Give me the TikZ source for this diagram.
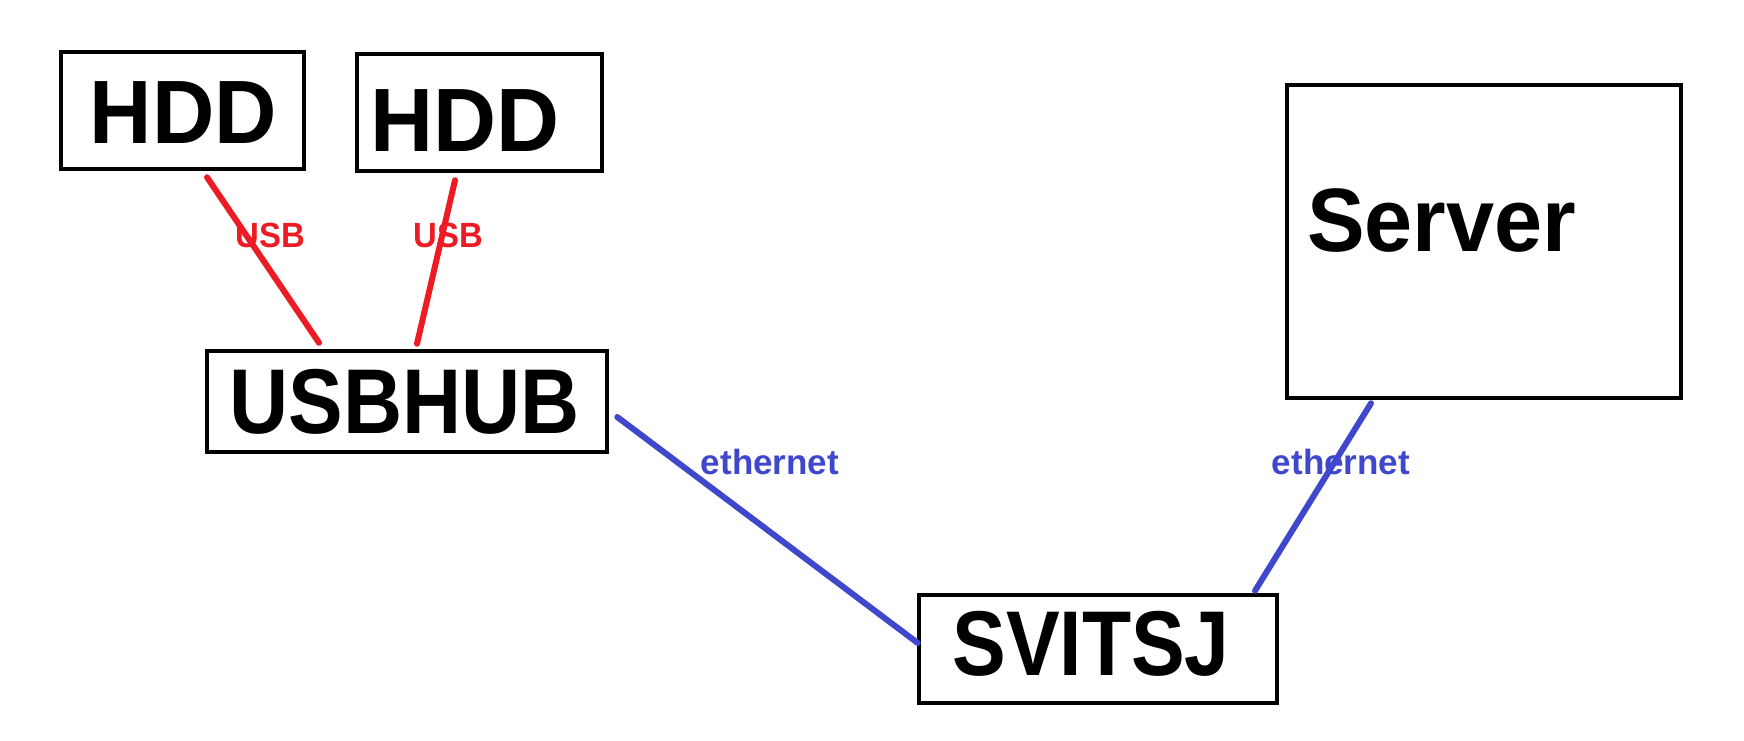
\documentclass[tikz,border=0pt]{standalone}
\usepackage{fontspec}
\setmainfont{Liberation Sans}
\usetikzlibrary{calc}
\definecolor{usbred}{RGB}{237,28,36}
\definecolor{ethblue}{RGB}{63,72,204}
\tikzset{
  devbox/.style={draw=black, line width=4.5pt, inner sep=0pt, fill=none},
  bigtext/.style={inner sep=0pt, font=\fontsize{90}{96}\selectfont\bfseries},
  usbline/.style={draw=usbred, line width=6pt, line cap=round},
  ethline/.style={draw=ethblue, line width=6pt, line cap=round},
  usblabel/.style={inner sep=0pt, text=usbred, font=\fontsize{35}{40}\selectfont\bfseries},
  ethlabel/.style={inner sep=0pt, text=ethblue, font=\fontsize{35}{40}\selectfont\bfseries},
}
\begin{document}
\begin{tikzpicture}[x=1pt,y=-1pt]
\useasboundingbox[fill=white] (0,0) rectangle (1744,740);

% boxes
\node[devbox, minimum width=243pt, minimum height=117pt] (hdda) at (182.5,110.5) {};
\node[devbox, minimum width=245pt, minimum height=117pt] (hddb) at (479.5,112.5) {};
\node[devbox, minimum width=400pt, minimum height=101pt] (hub) at (407,401.5) {};
\node[devbox, minimum width=394pt, minimum height=313pt] (server) at (1484,241.5) {};
\node[devbox, minimum width=358pt, minimum height=108pt] (switch) at (1098,649) {};

% box texts
\node[bigtext] (hddat) at (183.5,112.5) {\scalebox{0.96}[1]{HDD}};
\node[bigtext] (hddbt) at (465,121) {\scalebox{0.97}[1]{HDD}};
\node[bigtext, font=\fontsize{92}{96}\selectfont\bfseries] (hubt) at (405,401.5) {\scalebox{0.89}[1]{USBHUB}};
\node[bigtext] (servert) at (1441.5,220.5) {\scalebox{0.96}[1]{Server}};
\node[bigtext, font=\fontsize{92}{96}\selectfont\bfseries] (switcht) at (1091,643.5) {\scalebox{0.875}[1]{SVITSJ}};

% connector labels (drawn under the lines)
\node[usblabel] (usba) at (270.5,235.5) {\scalebox{0.94}[1]{USB}};
\node[usblabel] (usbb) at (448.5,235.5) {\scalebox{0.94}[1]{USB}};
\node[ethlabel] (etha) at (770,462) {ethernet};
\node[ethlabel] (ethb) at (1341,462) {ethernet};

% connectors
\draw[usbline] ($(hdda.south)+(24.5,6)$) -- ($(hub.north)+(-88,-6)$);
\draw[usbline] ($(hddb.south)+(-24.5,7)$) -- ($(hub.north)+(10,-5)$);
\draw[ethline] ($(hub.east)+(8,15.5)$) -- ($(switch.west)+(1,-6)$);
\draw[ethline] ($(server.south)+(-113,3)$) -- ($(switch.north)+(157,-2)$);
\end{tikzpicture}
\end{document}
